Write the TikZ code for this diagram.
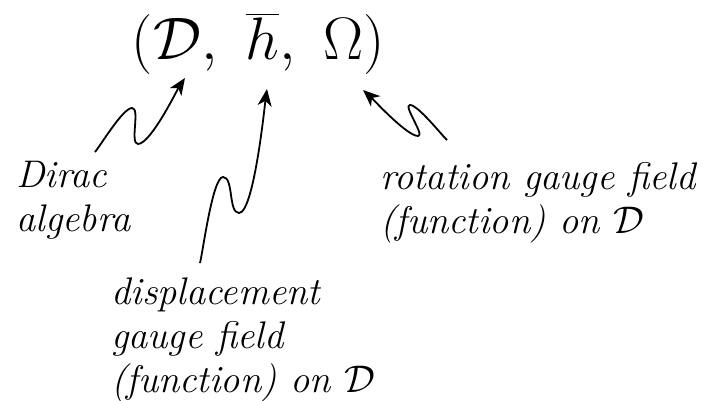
\RequirePackage{fix-cm}
\documentclass[tikz,border=0pt]{standalone}
\usepackage{amsmath}
\usetikzlibrary{arrows.meta}

\begin{document}
\begin{tikzpicture}[x=1pt, y=1pt, >={Stealth[length=17pt,width=14pt,inset=5pt]},
	   lbl/.style={align=left, inner sep=0pt, font=\fontsize{38.5}{44}\selectfont\itshape},
	   wig/.style={->, line width=1.8pt}]
	  \useasboundingbox (0,0) rectangle (709,-401);
	  \node[inner sep=0pt, anchor=base, font=\fontsize{60}{72}\selectfont] (triple) at (258.5,-60) {$(\mathcal{D},\ \overline{h},\ \Omega)$};
	  \node[lbl, anchor=base west] (dirac) at (16,-231) {Dirac\\algebra};
	  \node[lbl, anchor=base west] (rot) at (380,-233) {rotation gauge field\\(function) on $\mathcal{D}$};
	  \node[lbl, anchor=base west] (disp) at (111,-392) {displacement\\gauge field\\(function) on $\mathcal{D}$};
	  % wiggly pointers
	  \coordinate (sD) at (95,-152); \coordinate (tD) at (185,-78);
	  \coordinate (sH) at (200,-263); \coordinate (tH) at (267,-89);
	  \coordinate (sO) at (447,-140); \coordinate (tO) at (363,-90);
	  \draw[wig] (sD) to[out=50,in=180,looseness=0.4] (132,-108) to[out=0,in=180,looseness=0.6] (138,-144) to[out=0,in=-124,looseness=0.4] (tD);
	  \draw[wig] (sH) to[out=75,in=180,looseness=0.3] (223,-177) to[out=0,in=180,looseness=0.7] (239,-213) to[out=0,in=-98,looseness=0.3] (tH);
	  \draw[wig] (sO) to[out=137,in=0,looseness=0.4] (410,-105) to[out=180,in=0,looseness=0.6] (418,-136) to[out=180,in=-42,looseness=0.4] (tO);
	\end{tikzpicture}
\end{document}
